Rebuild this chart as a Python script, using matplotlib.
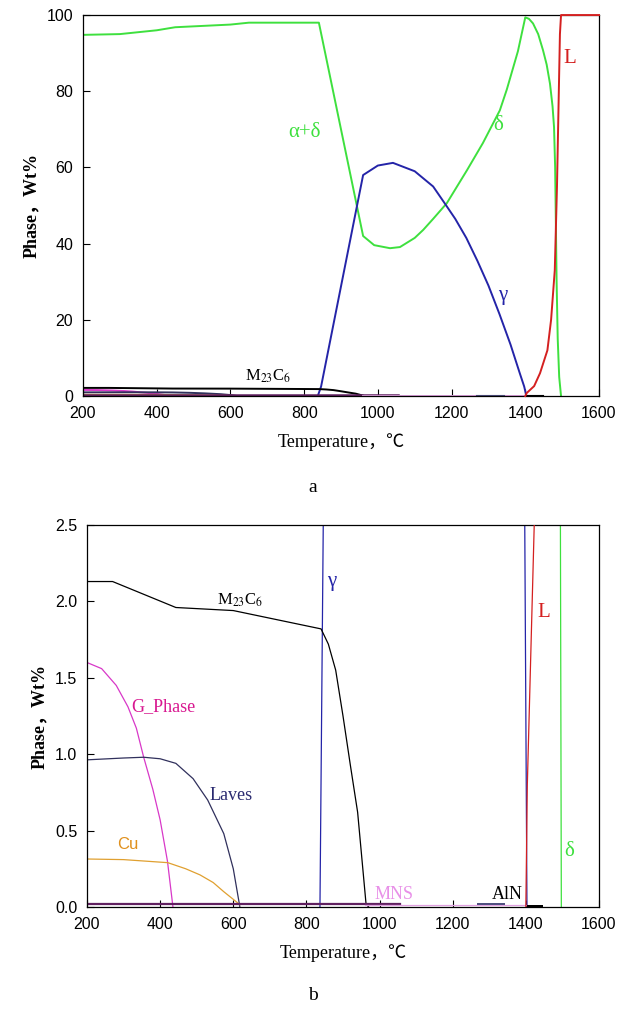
import matplotlib
matplotlib.use("Agg")
import matplotlib.pyplot as plt

plt.rcParams["mathtext.fontset"] = "stix"

# --- phase fractions (wt%) ---------------------------------------------------
ferrite_t = [200, 300, 400, 450, 600, 650, 840, 960, 990, 1033, 1060, 1100, 1123,
             1150, 1187, 1242, 1285, 1331, 1350, 1380, 1400, 1410, 1421, 1435, 1448,
             1458, 1467, 1474, 1478, 1481, 1483, 1485, 1488, 1492, 1497]
ferrite_v = [94.8, 95.0, 96.0, 96.8, 97.5, 98.0, 98.0, 42.0, 39.6, 38.8, 39.1, 41.5,
             43.6, 46.5, 50.6, 59.3, 66.4, 75.0, 80.5, 90.5, 99.4, 99.0, 97.8, 95.0,
             90.8, 87.0, 82.0, 76.0, 70.6, 60.0, 45.0, 30.0, 15.0, 5.0, 0.0]

gamma_t = [837, 846, 960, 1000, 1041, 1100, 1150, 1182, 1210, 1240, 1270, 1300,
           1330, 1360, 1385, 1397, 1403]
gamma_v = [0.0, 2.5, 58.0, 60.5, 61.2, 59.0, 55.0, 50.5, 46.5, 41.5, 35.5, 29.0,
           21.5, 13.5, 6.0, 2.5, 0.0]

liquid_t = [1400, 1404, 1424, 1440, 1460, 1470, 1480, 1486, 1490, 1494, 1497, 1600]
liquid_v = [0.0, 0.8, 2.6, 6.0, 12.0, 20.0, 33.0, 55.0, 75.0, 95.0, 100.0, 100.0]

m23c6_t = [200, 270, 443, 600, 840, 860, 880, 900, 920, 940, 963, 970]
m23c6_v = [2.13, 2.13, 1.96, 1.94, 1.82, 1.72, 1.55, 1.25, 0.93, 0.62, 0.02, 0.0]

gphase_t = [200, 240, 280, 312, 335, 355, 380, 400, 420, 435]
gphase_v = [1.60, 1.56, 1.45, 1.31, 1.17, 0.98, 0.77, 0.57, 0.30, 0.0]

laves_t = [200, 300, 355, 400, 443, 490, 530, 574, 600, 618]
laves_v = [0.963, 0.975, 0.98, 0.97, 0.94, 0.84, 0.70, 0.48, 0.25, 0.0]

cu_t = [200, 300, 421, 470, 509, 545, 574, 600, 618]
cu_v = [0.314, 0.31, 0.29, 0.25, 0.21, 0.16, 0.10, 0.05, 0.015]

mx_t = [200, 1056]
mx_v = [0.02, 0.02]
mns_t = [960, 1400]
mns_v = [0.015, 0.015]
aln_t = [1270, 1340]
aln_v = [0.02, 0.02]
other_t = [1405, 1445]
other_v = [0.004, 0.004]

GREEN, BLUE, RED = "#3ee03e", "#2424a8", "#d42020"
SERIF = ["Liberation Serif", "Noto Sans CJK SC"]
SANS = ["Liberation Sans", "DejaVu Sans"]


def draw(ax, lw, clip_liquid=True):
    ax.plot(ferrite_t, ferrite_v, color=GREEN, lw=lw)
    ax.plot(gamma_t, gamma_v, color=BLUE, lw=lw)
    ax.plot(liquid_t, liquid_v, color=RED, lw=lw, zorder=3, clip_on=clip_liquid)
    ax.plot(m23c6_t, m23c6_v, color="black", lw=lw)
    ax.plot(gphase_t, gphase_v, color="#d838c8", lw=lw)
    ax.plot(laves_t, laves_v, color="#30305c", lw=lw)
    ax.plot(cu_t, cu_v, color="#e0a030", lw=lw)
    ax.plot(mx_t, mx_v, color="#602060", lw=lw * 1.8)
    ax.plot(mns_t, mns_v, color="#e0a0e0", lw=lw)
    ax.plot(aln_t, aln_v, color="#505080", lw=lw * 1.6)
    ax.plot(other_t, other_v, color="black", lw=lw * 1.6)


def style(ax, ylim, yticks, yfmt):
    ax.set_xlim(200, 1600)
    ax.set_ylim(*ylim)
    ax.set_xticks(range(200, 1601, 200))
    ax.set_yticks(yticks)
    ax.set_yticklabels([yfmt.format(v) for v in yticks])
    ax.tick_params(direction="in", length=5, width=0.8, labelsize=11.5)
    ax.tick_params(axis="x", pad=7)
    ax.tick_params(axis="y", pad=7)
    for lab in ax.get_xticklabels() + ax.get_yticklabels():
        lab.set_family(SANS)
    for sp in ax.spines.values():
        sp.set_linewidth(0.9)
    ax.set_xlabel("Temperature，℃", family=SERIF, fontsize=13, labelpad=9)
    ax.set_ylabel("Phase，Wt%", family=SERIF, fontsize=13, fontweight="bold",
                  labelpad=5)


fig = plt.figure(figsize=(6.25, 10.10), dpi=100)

# panel a: full range
ax1 = fig.add_axes([0.1328, 0.6079, 0.8256, 0.3772])
draw(ax1, 1.4, clip_liquid=False)
style(ax1, (0, 100), [0, 20, 40, 60, 80, 100], "{:g}")
ax1.text(800, 69.3, "α+δ", color=GREEN, family=SERIF, fontsize=15, ha="center", va="center")
ax1.text(1326, 70.9, "δ", color=GREEN, family=SERIF, fontsize=15, ha="center", va="center")
ax1.text(1521, 88.7, "L", color=RED, family=SERIF, fontsize=15, ha="center", va="center")
ax1.text(1340, 26.5, "γ", color=BLUE, family=SERIF, fontsize=15, ha="center", va="center")
ax1.text(702, 5.2, r"M$_{23}$C$_6$", color="black", family=SERIF, fontsize=12,
         ha="center", va="center")

# panel b: zoom on minor phases
ax2 = fig.add_axes([0.1392, 0.1020, 0.8192, 0.3782])
draw(ax2, 0.9)
style(ax2, (0, 2.5), [0, 0.5, 1.0, 1.5, 2.0, 2.5], "{:.1f}")
ax2.text(868, 2.13, "γ", color=BLUE, family=SERIF, fontsize=15, ha="center", va="center")
ax2.text(618, 2.01, r"M$_{23}$C$_6$", color="black", family=SERIF, fontsize=12,
         ha="center", va="center")
ax2.text(1450, 1.93, "L", color=RED, family=SERIF, fontsize=15, ha="center", va="center")
ax2.text(410, 1.31, "G_Phase", color="#d81890", family=SERIF, fontsize=13,
         ha="center", va="center")
ax2.text(594, 0.73, "Laves", color="#2a2a70", family=SERIF, fontsize=13,
         ha="center", va="center")
ax2.text(312, 0.41, "Cu", color="#e0901c", family=SANS, fontsize=12, ha="center", va="center")
ax2.text(1518, 0.36, "δ", color=GREEN, family=SERIF, fontsize=15, ha="center", va="center")
ax2.text(1040, 0.08, "MNS", color="#e890e8", family=SERIF, fontsize=13,
         ha="center", va="center")
ax2.text(1349, 0.08, "AlN", color="black", family=SERIF, fontsize=13,
         ha="center", va="center")

fig.text(313 / 625, 1 - 487 / 1010, "a", family=SERIF, fontsize=14, ha="center", va="center")
fig.text(313 / 625, 1 - 995 / 1010, "b", family=SERIF, fontsize=14, ha="center", va="center")

fig.savefig("out.png", dpi=100)
